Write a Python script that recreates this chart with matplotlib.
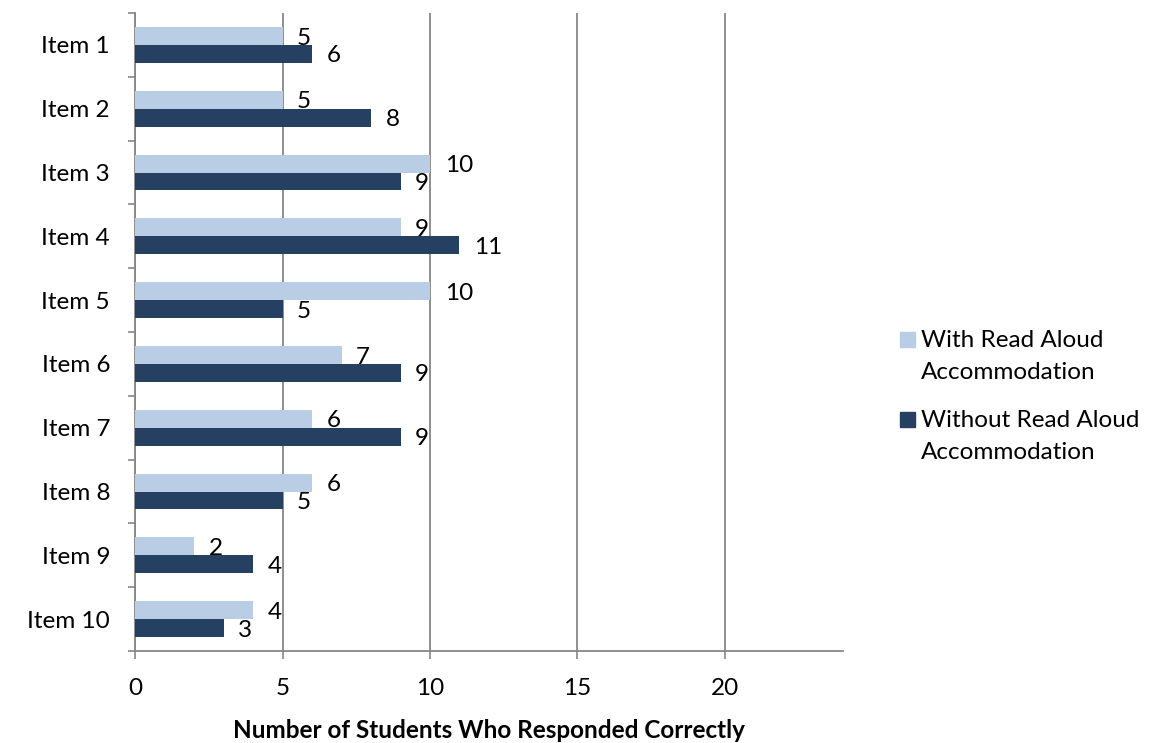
import matplotlib.pyplot as plt
import matplotlib.patches as mpatches
import numpy as np

# Correct responses per item
items = ['Item 1', 'Item 2', 'Item 3', 'Item 4', 'Item 5',
         'Item 6', 'Item 7', 'Item 8', 'Item 9', 'Item 10']
with_read_aloud = [5, 5, 10, 9, 10, 7, 6, 6, 2, 4]
without_read_aloud = [6, 8, 9, 11, 5, 9, 9, 5, 4, 3]
series_names = ['With Read Aloud\nAccommodation', 'Without Read Aloud\nAccommodation']
x_ticks = [0, 5, 10, 15, 20]

LIGHT = '#B9CDE5'
DARK = '#254061'
GRID = '#868686'
FS = 17.5

plt.rcParams['font.family'] = ['Lato', 'DejaVu Sans']

fig = plt.figure(figsize=(11.64, 7.43), dpi=100)
ax = fig.add_axes([0.116, 0.1238, 0.6082, 0.8587])

pos = np.arange(len(items))
h = 0.28
bars_with = ax.barh(pos - h / 2, with_read_aloud, height=h, color=LIGHT, zorder=3)
bars_without = ax.barh(pos + h / 2, without_read_aloud, height=h, color=DARK, zorder=3)

# value labels to the right of each bar
for bars, vals in ((bars_with, with_read_aloud), (bars_without, without_read_aloud)):
    for b, v in zip(bars, vals):
        ax.annotate(str(v), (v, b.get_y() + b.get_height() / 2),
                    xytext=(10.5, -1.5), textcoords='offset points',
                    ha='left', va='center', fontsize=FS, zorder=4)

ax.set_xlim(0, 24)
ax.set_ylim(len(items) - 0.5, -0.5)

ax.set_xticks(x_ticks)
ax.set_xticklabels([str(t) for t in x_ticks], fontsize=FS)
ax.tick_params(axis='x', length=6, width=1.2, color=GRID, pad=13.5)

ax.set_yticks(pos)
ax.set_yticklabels(items, fontsize=FS)
ax.set_yticks(np.arange(len(items) + 1) - 0.5, minor=True)
ax.tick_params(axis='y', which='major', length=0, pad=18)
ax.tick_params(axis='y', which='minor', length=5, width=1.2, color=GRID)

ax.grid(axis='x', color=GRID, linewidth=1.3, zorder=1)
ax.set_axisbelow(True)
for side in ('top', 'right'):
    ax.spines[side].set_visible(False)
for side in ('left', 'bottom'):
    ax.spines[side].set_color(GRID)
    ax.spines[side].set_linewidth(1.3)

ax.set_xlabel('Number of Students Who Responded Correctly',
              fontsize=FS, fontweight='bold', labelpad=14)

# legend drawn with squares next to the first line of each entry
leg_x = 900 / 1164
for i, (name, col) in enumerate(zip(series_names, [LIGHT, DARK])):
    top_y = 1 - (332 + i * 80) / 743
    fig.patches.append(mpatches.Rectangle((leg_x, top_y - 15 / 743), 15 / 1164, 15 / 743,
                                          transform=fig.transFigure, color=col))
    fig.text(leg_x + 21 / 1164, top_y + 2 / 743, name, fontsize=FS, va='top', ha='left',
             linespacing=1.65)

fig.savefig('out.png', dpi=100)
